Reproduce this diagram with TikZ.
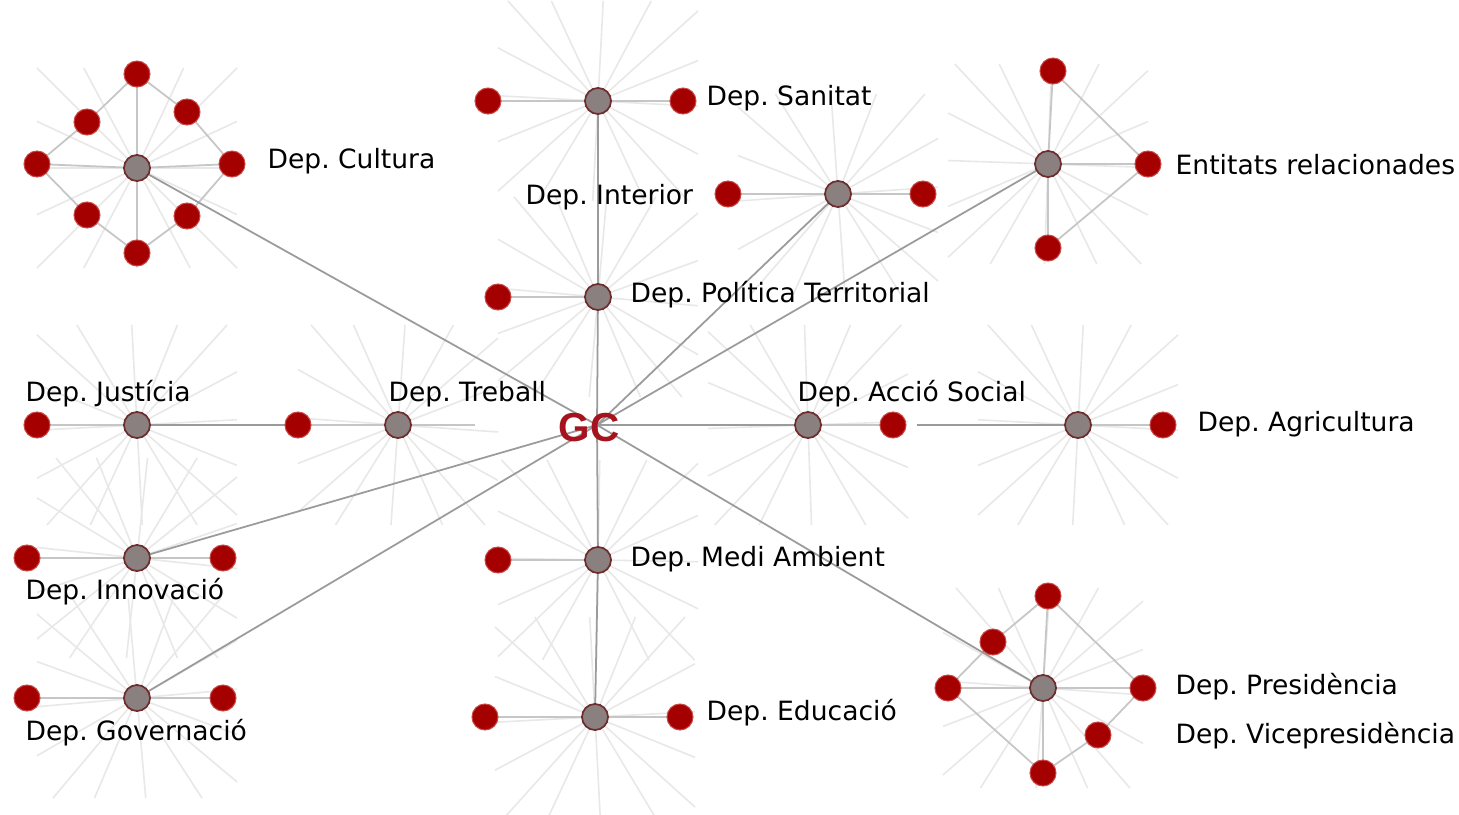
\documentclass[tikz,border=0pt]{standalone}
\usepackage{fontspec}
\setmainfont{DejaVu Sans}
\newfontfamily\gcfont{Liberation Sans}
\frenchspacing
\definecolor{rednode}{RGB}{165,0,0}
\definecolor{redglow}{RGB}{200,70,70}
\definecolor{hubfill}{RGB}{138,128,128}
\definecolor{hubborder}{RGB}{110,45,45}
\definecolor{edgedark}{RGB}{155,155,155}
\definecolor{edgelight}{RGB}{198,198,198}
\definecolor{burstcol}{RGB}{232,232,232}
\definecolor{gcred}{RGB}{165,20,30}
\pgfdeclarelayer{bglayer}
\pgfdeclarelayer{edgelayer}
\pgfsetlayers{bglayer,edgelayer,main}
\newcommand\burstat[2]{%
  \foreach \a in {0,25,45,62,90,118,135,155,180,205,225,242,270,295,315,335}{%
    \pgfmathsetmacro\rr{100/max(abs(cos(\a+#2)),abs(sin(\a+#2)))}%
    \draw[burstline] (#1) -- ++(\a+#2:\rr);
  }}
\begin{document}
\begin{tikzpicture}[x=0.01cm,y=-0.01cm,
  leaf/.style={circle,fill=rednode,draw=redglow,line width=0.3pt,minimum size=0.26cm,inner sep=0pt},
  hub/.style={circle,fill=hubfill,draw=hubborder,line width=0.5pt,minimum size=0.26cm,inner sep=0pt},
  lbl/.style={anchor=base west,inner sep=0pt,font=\fontsize{7.55}{9}\selectfont},
  mainedge/.style={draw=edgedark,line width=0.5pt},
  spoke/.style={draw=edgelight,line width=0.5pt},
  burstline/.style={draw=burstcol,line width=0.45pt}]
\useasboundingbox (0,0) rectangle (1459,815);
\begin{pgfonlayer}{bglayer}
\fill[white] (0,0) rectangle (1459,815);
\end{pgfonlayer}

% hub coordinates
\coordinate (pc0) at (137,168);
\coordinate (ps0) at (598,101);
\coordinate (pi0) at (838,194);
\coordinate (pp0) at (598,297);
\coordinate (pe0) at (1048,164);
\coordinate (pj0) at (137,425);
\coordinate (pt0) at (398,425);
\coordinate (pa0) at (808,425);
\coordinate (pg0) at (1078,425);
\coordinate (pn0) at (137,558);
\coordinate (pv0) at (137,698);
\coordinate (pm0) at (598,560);
\coordinate (pd0) at (595,717);
\coordinate (pr0) at (1043,688);

% background bursts
\begin{pgfonlayer}{bglayer}
\burstat{pc0}{0}
\burstat{ps0}{3}
\burstat{pi0}{-4}
\burstat{pp0}{5}
\burstat{pe0}{2}
\burstat{pj0}{-3}
\burstat{pt0}{4}
\burstat{pa0}{-2}
\burstat{pg0}{3}
\burstat{pn0}{6}
\burstat{pv0}{-5}
\burstat{pm0}{1}
\burstat{pd0}{-3}
\burstat{pr0}{4}
\end{pgfonlayer}

% nodes
\node[hub] (c0) at (pc0) {};
\node[leaf] (c1) at (137,74) {};
\node[leaf] (c2) at (87,122) {};
\node[leaf] (c3) at (187,112) {};
\node[leaf] (c4) at (37,164) {};
\node[leaf] (c5) at (232,164) {};
\node[leaf] (c6) at (87,215) {};
\node[leaf] (c7) at (187,216) {};
\node[leaf] (c8) at (137,253) {};

\node[hub] (s0) at (ps0) {};
\node[leaf] (s1) at (488,101) {};
\node[leaf] (s2) at (683,101) {};

\node[hub] (i0) at (pi0) {};
\node[leaf] (i1) at (728,194) {};
\node[leaf] (i2) at (923,194) {};

\node[hub] (p0) at (pp0) {};
\node[leaf] (p1) at (498,297) {};

\node[hub] (e0) at (pe0) {};
\node[leaf] (e1) at (1053,71) {};
\node[leaf] (e2) at (1148,164) {};
\node[leaf] (e3) at (1048,248) {};

\node[hub] (j0) at (pj0) {};
\node[leaf] (j1) at (37,425) {};
\node[leaf] (j2) at (298,425) {};

\node[hub] (t0) at (pt0) {};
\coordinate (t1) at (475,425);

\node[hub] (a0) at (pa0) {};
\node[leaf] (a1) at (893,425) {};

\node[hub] (g0) at (pg0) {};
\node[leaf] (g1) at (1163,425) {};

\node[hub] (n0) at (pn0) {};
\node[leaf] (n1) at (27,558) {};
\node[leaf] (n2) at (223,558) {};

\node[hub] (v0) at (pv0) {};
\node[leaf] (v1) at (27,698) {};
\node[leaf] (v2) at (223,698) {};

\node[hub] (m0) at (pm0) {};
\node[leaf] (m1) at (498,560) {};

\node[hub] (d0) at (pd0) {};
\node[leaf] (d1) at (485,717) {};
\node[leaf] (d2) at (680,717) {};

\node[hub] (r0) at (pr0) {};
\node[leaf] (r1) at (1048,596) {};
\node[leaf] (r2) at (993,642) {};
\node[leaf] (r3) at (948,688) {};
\node[leaf] (r4) at (1143,688) {};
\node[leaf] (r5) at (1098,735) {};
\node[leaf] (r6) at (1043,773) {};

\coordinate (gcc) at (597,425);
\node[inner sep=0pt,text=gcred,font=\gcfont\bfseries\fontsize{11.5}{12}\selectfont] (gc) at (589,428) {GC};

% edges
\begin{pgfonlayer}{edgelayer}
% light spokes
\draw[spoke] (c0.center) -- (c1.center) (c0.center) -- (c4.center) (c0.center) -- (c5.center) (c0.center) -- (c8.center);
\draw[spoke] (c1.center) -- (c2.center) -- (c4.center) -- (c6.center) -- (c8.center) -- (c7.center) -- (c5.center) -- (c3.center) -- (c1.center);
\draw[spoke] (s1.center) -- (s0.center) -- (s2.center);
\draw[spoke] (i1.center) -- (i0.center) -- (i2.center);
\draw[spoke] (p1.center) -- (p0.center);
\draw[spoke] (e0.center) -- (e1.center) (e0.center) -- (e2.center) (e0.center) -- (e3.center);
\draw[spoke] (e1.center) -- (e2.center) -- (e3.center);
\draw[spoke] (j1.center) -- (j0.center);
\draw[spoke] (j2.center) -- (t0.center) -- (t1);
\draw[spoke] (a0.center) -- (a1.center);
\draw[spoke] (g0.center) -- (g1.center);
\draw[spoke] (n1.center) -- (n0.center) -- (n2.center);
\draw[spoke] (v1.center) -- (v0.center) -- (v2.center);
\draw[spoke] (m1.center) -- (m0.center);
\draw[spoke] (d1.center) -- (d0.center) -- (d2.center);
\draw[spoke] (r0.center) -- (r1.center) (r0.center) -- (r3.center) (r0.center) -- (r4.center) (r0.center) -- (r6.center);
\draw[spoke] (r1.center) -- (r2.center) -- (r3.center) -- (r6.center) -- (r5.center) -- (r4.center) -- (r1.center);
% main connectors
\draw[mainedge] (s0.center) -- (p0.center) -- (gcc) -- (m0.center) -- (d0.center);
\draw[mainedge] (c0.center) -- (gcc);
\draw[mainedge] (i0.center) -- (gcc);
\draw[mainedge] (e0.center) -- (gcc);
\draw[mainedge] (j0.center) -- (j2.center);
\draw[mainedge] (gcc) -- (a0.center);
\draw[mainedge] (a1.east) ++(10,0) -- (g0.center);
\draw[mainedge] (n0.center) -- (gcc);
\draw[mainedge] (v0.center) -- (gcc);
\draw[mainedge] (r0.center) -- (gcc);
\end{pgfonlayer}

% labels
\node[lbl] (lc) at (267,169) {Dep. Cultura};
\node[lbl] (ls) at (706,106) {Dep. Sanitat};
\node[lbl] (li) at (525,205) {Dep. Interior};
\node[lbl] (lp) at (630,302) {Dep. Política Territorial};
\node[lbl] (le) at (1175,175) {Entitats relacionades};
\node[lbl] (lj) at (25,402) {Dep. Justícia};
\node[lbl] (lt) at (388,402) {Dep. Treball};
\node[lbl] (la) at (797,402) {Dep. Acció Social};
\node[lbl] (lg) at (1197,432) {Dep. Agricultura};
\node[lbl] (ln) at (25,599) {Dep. Innovació};
\node[lbl] (lv) at (25,740) {Dep. Governació};
\node[lbl] (lm) at (630,567) {Dep. Medi Ambient};
\node[lbl] (ld) at (706,720) {Dep. Educació};
\node[lbl] (lr) at (1175,695) {Dep. Presidència};
\node[lbl] (lr2) at (1175,743) {Dep. Vicepresidència};
\end{tikzpicture}
\end{document}
